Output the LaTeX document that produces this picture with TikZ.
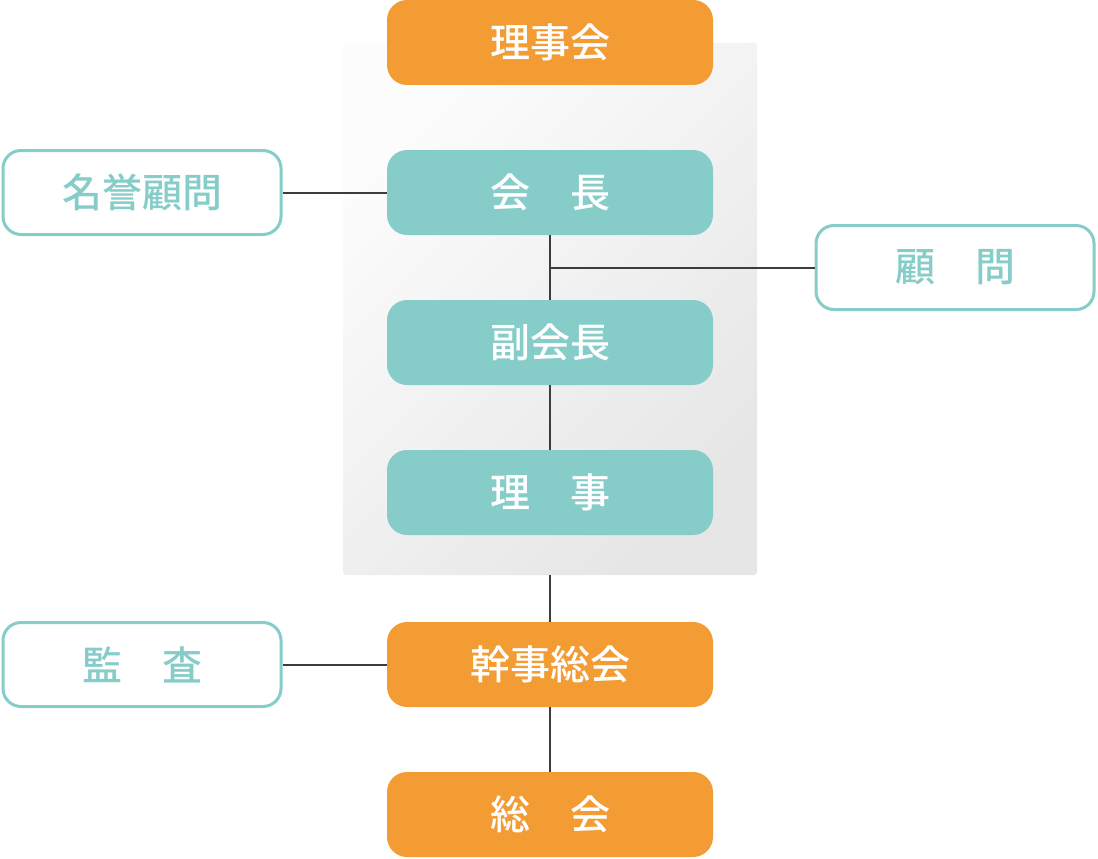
\documentclass[tikz,border=0pt]{standalone}
\usepackage{fontspec}
\setmainfont{Noto Sans CJK JP}[BoldFont={Noto Sans CJK JP Medium}]
\usetikzlibrary{positioning, calc}
\definecolor{kaiorange}{HTML}{F29C33}
\definecolor{kaiteal}{HTML}{86CDC9}
\definecolor{kailine}{HTML}{3C3C3C}
\definecolor{kaipanel}{HTML}{E6E6E6}

\begin{document}
\begin{tikzpicture}[x=1pt, y=-1pt,
  orgbox/.style={rounded corners=20pt, minimum width=326pt, minimum height=85pt, inner sep=0pt, font=\fontsize{40}{42}\selectfont\bfseries, text=white},
  sidebox/.style={draw=kaiteal, line width=3pt, fill=white, rounded corners=18pt, minimum width=278pt, minimum height=84pt, inner sep=0pt, font=\fontsize{40}{42}\selectfont\bfseries, text=kaiteal},
  panel/.style={rounded corners=3pt, minimum width=414pt, minimum height=532pt, inner sep=0pt, shading=axis, left color=gray!2, middle color=kaipanel!92!white, right color=kaipanel, shading angle=45},
  link/.style={draw=kailine, line width=2pt}
]
\useasboundingbox (0,0) rectangle (1098,859);
\node[panel] (board) at (550,309) {};

\node[orgbox, fill=kaiorange] (rijikai) at (550,42.5) {理事会};
\node[orgbox, fill=kaiteal] (kaicho) at (550,192.5) {会　長};
\node[orgbox, fill=kaiteal] (fukukaicho) at (550,342.5) {副会長};
\node[orgbox, fill=kaiteal] (riji) at (550,492.5) {理　事};
\node[orgbox, fill=kaiorange] (kanji) at (550,664.5) {幹事総会};
\node[orgbox, fill=kaiorange] (sokai) at (550,814.5) {総　会};

\node[sidebox] (meiyo) at (142,192.5) {名誉顧問};
\node[sidebox] (komon) at (955,267.5) {顧　問};
\node[sidebox] (kansa) at (142,664.5) {監　査};

\coordinate (branch) at (kaicho.south |- komon.west);
\draw[link] (meiyo) -- (kaicho);
\draw[link] (kaicho) -- (fukukaicho);
\draw[link] (branch) -- (komon);
\draw[link] (fukukaicho) -- (riji);
\draw[link] (board.south) -- (kanji.north);
\draw[link] (kansa) -- (kanji);
\draw[link] (kanji) -- (sokai);
\end{tikzpicture}
\end{document}
